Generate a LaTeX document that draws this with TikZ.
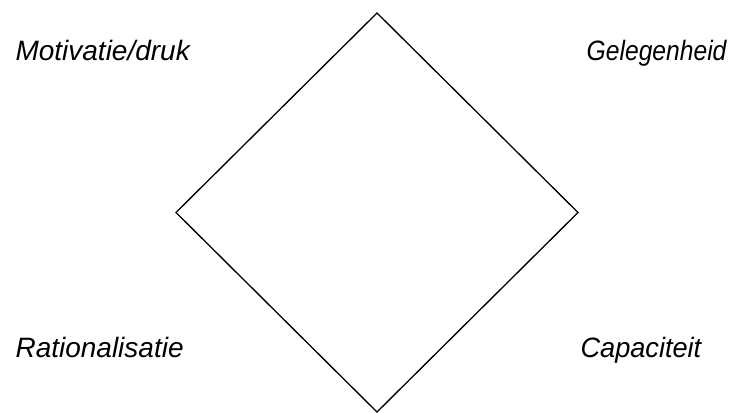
\documentclass[tikz,border=0pt]{standalone}
\usepackage{fontspec}
\setmainfont{Liberation Sans}
\begin{document}
\begin{tikzpicture}[x=0.75pt, y=-0.75pt, thick, font=\itshape\fontsize{21}{25}\selectfont]
  \tikzset{label text/.style={inner sep=0pt}}
  \useasboundingbox (0,0) rectangle (731,412);
  % Diamond
  \coordinate (top) at (377,13);
  \coordinate (left) at (176,212.5);
  \coordinate (right) at (578,212.5);
  \coordinate (bottom) at (377,412);
  \draw[line width=1pt] (top) -- (right) -- (bottom) -- (left) -- cycle;

  % Labels
  \node[label text, anchor=base west] (motivatie) at (15,60) {Motivatie/druk};
  \node[label text, anchor=base east] (gelegenheid) at (727,60) {\scalebox{0.88}[1]{Gelegenheid}};
  \node[label text, anchor=base west] (rationalisatie) at (15,357) {Rationalisatie};
  \node[label text, anchor=base west] (capaciteit) at (580,357) {\scalebox{0.97}[1]{Capaciteit}};
\end{tikzpicture}
\end{document}
